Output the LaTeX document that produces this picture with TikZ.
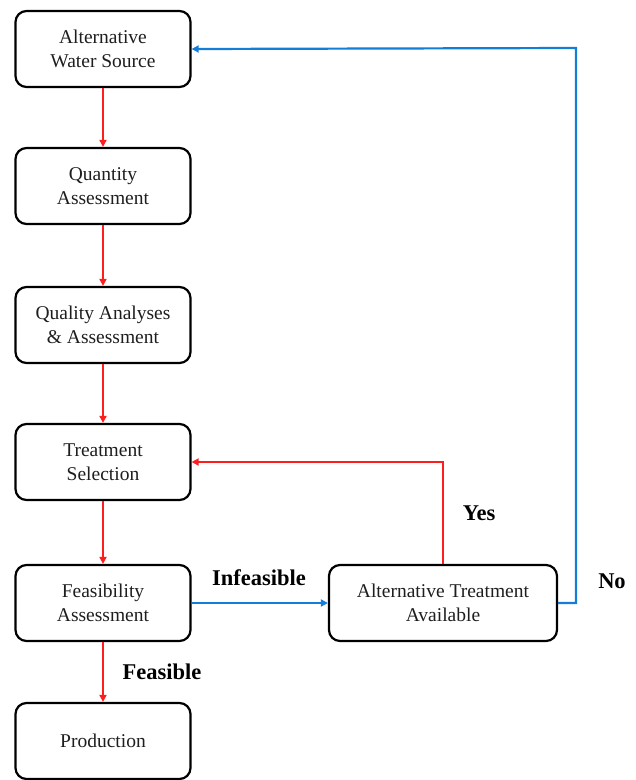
\documentclass[tikz,border=0pt]{standalone}
\usepackage{fontspec}
\setmainfont{Liberation Serif}
\usetikzlibrary{arrows.meta}
\definecolor{rd}{RGB}{255,30,30}
\definecolor{bl}{RGB}{20,125,215}
\definecolor{tx}{RGB}{30,30,30}
\begin{document}
\begin{tikzpicture}[x=1pt,y=-1pt,
  box/.style={draw=black,line width=2.2pt,rounded corners=11pt,minimum width=175pt,minimum height=76pt,align=center,text=tx,font=\fontsize{19.5}{24.5}\selectfont,inner sep=0pt},
  redarrow/.style={draw=rd,line width=2.2pt,-{Triangle[length=7pt,width=7pt]}},
  bluearrow/.style={draw=bl,line width=2.2pt,-{Triangle[length=7pt,width=7pt]}},
  lab/.style={font=\fontsize{22.5}{26}\selectfont\bfseries,text=black}]
\useasboundingbox (0,0) rectangle (636,780);
\node[box] (src) at (103,49) {Alternative\\Water Source};
\node[box] (qty) at (103,186) {Quantity\\Assessment};
\node[box] (qual) at (103,325) {Quality Analyses\\\& Assessment};
\node[box] (treat) at (103,462) {Treatment\\Selection};
\node[box] (feas) at (103,603) {Feasibility\\Assessment};
\node[box] (prod) at (103,741) {Production};
\node[box,minimum width=228pt] (alt) at (443,603) {Alternative Treatment\\Available};
\coordinate (ytop) at (443,462);
\coordinate (nr) at (576,603);
\coordinate (nt) at (576,48);
\draw[redarrow] (src) -- (qty);
\draw[redarrow] (qty) -- (qual);
\draw[redarrow] (qual) -- (treat);
\draw[redarrow] (treat) -- (feas);
\draw[redarrow] (feas) -- (prod);
\draw[bluearrow] (feas) -- (alt);
\draw[redarrow] (alt.north) -- (ytop) -- (treat.east);
\draw[bluearrow] (alt.east) -- (nr) -- (nt) -- (src.east);
\node[lab] (linf) at (259,578) {Infeasible};
\node[lab] (lyes) at (479,513) {Yes};
\node[lab] (lno) at (612,581) {No};
\node[lab] (lfeas) at (162,672) {Feasible};
\end{tikzpicture}
\end{document}
